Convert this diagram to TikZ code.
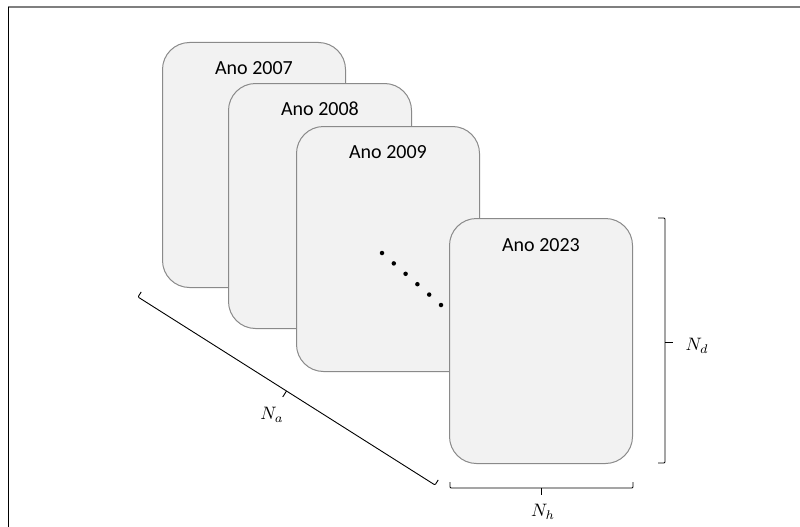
\documentclass[tikz,border=0pt]{standalone}
\usepackage{graphicx}
\usepackage{fontspec}
\setmainfont{Carlito}
\usetikzlibrary{calc}
\definecolor{boxfill}{HTML}{F2F2F2}
\definecolor{boxline}{HTML}{8A8A8A}
\definecolor{framegray}{HTML}{7F7F7F}
\newcommand{\biglabel}[1]{\scalebox{1.8}{$#1$}}
\begin{document}
\begin{tikzpicture}[x=1pt,y=-1pt,
  yearbox/.style={draw=boxline, fill=boxfill, line width=1pt, rounded corners=27pt,
    minimum width=183pt, minimum height=245pt, anchor=north west, inner sep=0pt},
  yeartext/.style={font=\fontsize{20}{24}\selectfont, inner sep=0pt},
  bracket/.style={draw=black, line width=0.9pt, rounded corners=1pt},
  mathlabel/.style={inner sep=0pt},
  dotmark/.style={circle, fill=black, inner sep=0pt, minimum size=4.5pt}]
\useasboundingbox (0,0) rectangle (800,527);

% page frame (top and left edges)
\draw[framegray, line width=1.5pt] (8,7) -- (800,7);
\draw[black, line width=1pt] (8,7) -- (8,527);

% stacked yearly sheets
\node[yearbox] (b07) at (162,42) {};
\node[yeartext] (t07) at ([yshift=-26pt]b07.north) {Ano 2007};
\node[yearbox] (b08) at (228,83) {};
\node[yeartext] (t08) at ([yshift=-26pt]b08.north) {Ano 2008};
\node[yearbox] (b09) at (296,126) {};
\node[yeartext] (t09) at ([yshift=-26pt]b09.north) {Ano 2009};

% ellipsis between the sheets
\foreach \i in {0,...,5}
  \node[dotmark] (d\i) at (382+11.8*\i, 253+10.4*\i) {};

\node[yearbox] (b23) at (449,218) {};
\node[yeartext] (t23) at ([yshift=-27pt]b23.north) {Ano 2023};

% vertical bracket: N_d
\coordinate (dTop) at (665,218);
\coordinate (dBot) at (665,463);
\coordinate (dMid) at ($(dTop)!0.5!(dBot)$);
\draw[bracket] ([xshift=-7pt]dTop) -- (dTop) -- (dBot) -- ([xshift=-7pt]dBot);
\draw[bracket] ([yshift=-2pt]dMid) -- ++(8,0);
\node[mathlabel] (Nd) at (697,346) {\biglabel{N_d}};

% horizontal bracket: N_h
\coordinate (hL) at (450,488);
\coordinate (hR) at (633,488);
\coordinate (hMid) at ($(hL)!0.5!(hR)$);
\draw[bracket] ([yshift=6pt]hL) -- (hL) -- (hR) -- ([yshift=6pt]hR);
\draw[bracket] (hMid) -- ++(0,7);
\node[mathlabel] (Nh) at (543,512) {\biglabel{N_h}};

% diagonal bracket: N_a
\coordinate (aS) at (138,297);
\coordinate (aE) at (435,485);
\coordinate (aM) at ($(aS)!0.5!(aE)$);
\draw[bracket] ($(aS)!6pt!90:(aE)$) -- (aS) -- (aE) -- ($(aE)!6pt!-90:(aS)$);
\draw[bracket] (aM) -- ($(aM)!7pt!-90:(aE)$);
\node[mathlabel] (Na) at (272,415) {\biglabel{N_a}};
\end{tikzpicture}
\end{document}
